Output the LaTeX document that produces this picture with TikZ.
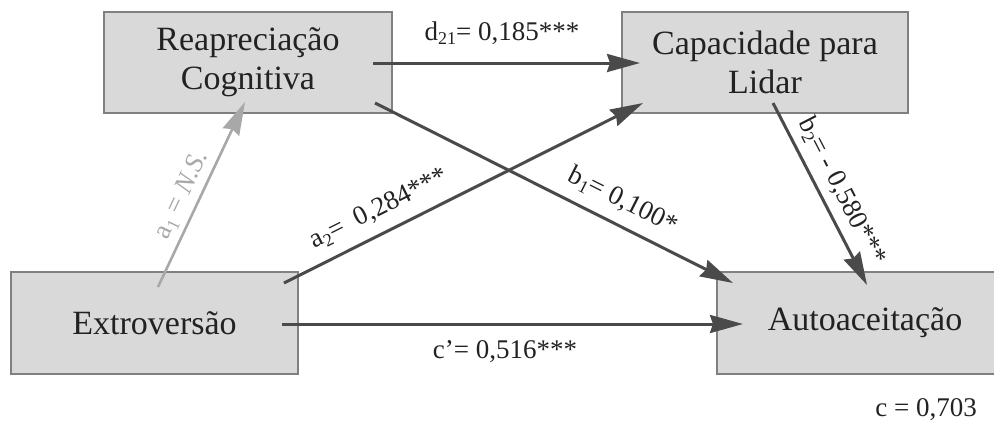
\documentclass[tikz,border=0pt]{standalone}
\usepackage{fontspec}
\setmainfont{Liberation Serif}
\usetikzlibrary{arrows.meta,calc}
\definecolor{boxfill}{RGB}{217,217,217}
\definecolor{boxline}{RGB}{128,128,128}
\definecolor{arrcol}{RGB}{74,74,74}
\definecolor{nscol}{RGB}{168,168,168}
\definecolor{txtcol}{RGB}{34,34,34}
\newcommand{\lowsub}[1]{\raisebox{-0.35ex}{\fontsize{9pt}{9pt}\selectfont #1}}
\begin{document}
\begin{tikzpicture}[x=0.5pt,y=-0.5pt,
  varbox/.style={draw=boxline,line width=0.6pt,fill=boxfill,align=center,
    text=txtcol,font=\fontsize{17pt}{19.5pt}\selectfont,inner sep=0pt},
  arr/.style={draw=arrcol,line width=1.5pt,-{Stealth[length=16.5pt,width=9pt,inset=1.5pt]}},
  nsarr/.style={draw=nscol,line width=1.3pt,-{Stealth[length=16.5pt,width=9pt,inset=1.5pt]}},
  lab/.style={font=\fontsize{13.5pt}{16pt}\selectfont,text=txtcol,inner sep=0pt},
  nslab/.style={font=\fontsize{13.5pt}{16pt}\selectfont,text=nscol,inner sep=0pt}]
\useasboundingbox (0,0) rectangle (994,425);
% boxes
\node[varbox,minimum width=144pt,minimum height=50.5pt] (reap) at (248,62.5) {Reapreciação\\Cognitiva};
\node[varbox,minimum width=143pt,minimum height=50.5pt] (cap) at (765,62.5) {Capacidade para\\Lidar};
\node[varbox,minimum width=143.5pt,minimum height=51pt] (ext) at (154.5,323) {Extroversão};
\node[varbox,minimum width=148pt,minimum height=51pt] (auto) at (865,323) {Autoaceitação};
% connector end points
\coordinate (dS) at ($(reap.center)+(125,0.5)$);
\coordinate (bAS) at ($(reap.center)+(127,40.5)$);
\coordinate (aAE) at ($(reap.center)+(-3,39.5)$);
\coordinate (dE) at ($(cap.center)+(-125,0.5)$);
\coordinate (aBE) at ($(cap.center)+(-122,40.5)$);
\coordinate (bBS) at ($(cap.center)+(8,40.5)$);
\coordinate (aBS) at ($(ext.center)+(129.5,-40)$);
\coordinate (aAS) at ($(ext.center)+(3.5,-36)$);
\coordinate (cS) at ($(ext.center)+(127.5,1)$);
\coordinate (bAE) at ($(auto.center)+(-132,-40)$);
\coordinate (bBE) at ($(auto.center)+(2,-38)$);
\coordinate (cE) at ($(auto.center)+(-122,1)$);
% connectors
\draw[nsarr] (aAS) -- (aAE);
\draw[arr] (dS) -- (dE);
\draw[arr] (bAS) -- (bAE);
\draw[arr] (aBS) -- (aBE);
\draw[arr] (bBS) -- (bBE);
\draw[arr] (cS) -- (cE);
% labels
\node[lab] (ld) at (502,33) {d\lowsub{21}= 0,185***};
\node[lab] (lc1) at (505,352) {c’= 0,516***};
\node[lab] (lc) at (926,410) {c = 0,703};
\node[nslab,rotate=64.8] (la1) at (182,195) {a\lowsub{1} = \textit{N.S.}};
\node[lab,rotate=26.6] (la2) at (379,209) {a\lowsub{2}=~ 0,284***};
\node[lab,rotate=-26.7] (lb1) at (623,201) {b\lowsub{1}= 0,100*};
\node[lab,rotate=-62.7] (lb2) at (842,191) {b\lowsub{2}= - 0,580***};
\end{tikzpicture}
\end{document}
